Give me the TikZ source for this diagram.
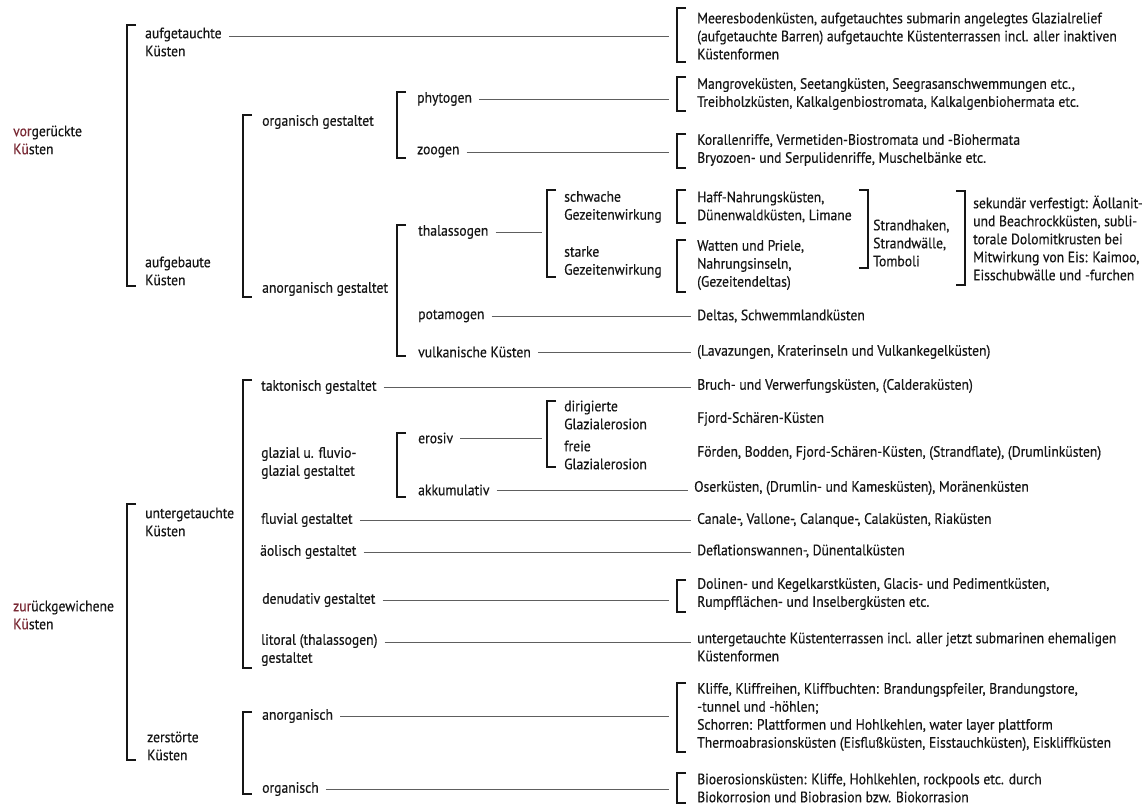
\documentclass[tikz,border=0pt]{standalone}
\usepackage{fontspec}
\setmainfont{PT Sans}[FakeStretch=0.91,FakeBold=0.35]
\definecolor{ink}{HTML}{161616}
\definecolor{lgray}{HTML}{5E5E5E}
\definecolor{hl}{HTML}{7A2A35}

\begin{document}
\begin{tikzpicture}[x=1pt,y=-1pt,every node/.style={font=\fontsize{15}{18}\selectfont}]
    \tikzstyle{txt}=[anchor=west,inner sep=0pt,align=left,text=ink]
    \tikzstyle{brk}=[line width=1.3pt,draw=ink]
    \tikzstyle{conn}=[line width=0.8pt,draw=lgray,shorten <=7pt,shorten >=6pt]
    \tikzstyle{bconn}=[conn,shorten >=28pt]
    \tikzstyle{sconn}=[conn,shorten >=22pt]

    \useasboundingbox[fill=white] (0,0) rectangle (1148,807);

    % main groups
    \node[txt] (vor) at (13,140) {\textcolor{hl}{vor}gerückte\\\textcolor{hl}{Kü}sten};
    \node[txt] (zur) at (13,615) {\textcolor{hl}{zur}ückgewichene\\\textcolor{hl}{Kü}sten};

    \node[txt] (aufget) at (145,42) {aufgetauchte\\Küsten};
    \node[txt] (aufgeb) at (145,271) {aufgebaute\\Küsten};
    \node[txt] (unterg) at (145,522) {untergetauchte\\Küsten};
    \node[txt] (zerst) at (147,746) {zerstörte\\Küsten};
    \draw[brk] (136,25) -| (127,286) -- ++(9,0);
    \draw[brk] (136,504) -| (127,760) -- ++(9,0);

    % aufgebaute Kuesten
    \node[txt] (org) at (262,122) {organisch gestaltet};
    \node[txt] (anorg) at (262,289) {anorganisch gestaltet};
    \draw[brk] (252,115) -| (243,297) -- ++(9,0);

    \node[txt] (phyto) at (417,99) {phytogen};
    \node[txt] (zoo) at (417,152) {zoogen};
    \draw[brk] (406,92) -| (397,158) -- ++(9,0);

    \node[txt] (thal) at (418,232) {thalassogen};
    \node[txt] (pota) at (418,316) {potamogen};
    \node[txt] (vulk) at (418,352) {vulkanische Küsten};
    \draw[brk] (406,225) -| (397,356) -- ++(9,0);

    \node[txt] (schw) at (564,207) {schwache\\Gezeitenwirkung};
    \node[txt] (stark) at (564,262) {starke\\Gezeitenwirkung};
    \draw[brk] (556,190) -| (547,277) -- ++(9,0);

    % untergetauchte Kuesten
    \node[txt] (takt) at (261,387) {taktonisch gestaltet};
    \node[txt] (glaz) at (261,463) {glazial u. fluvio-\\glazial gestaltet};
    \node[txt] (fluv) at (261,520) {fluvial gestaltet};
    \node[txt] (aeol) at (260,552) {äolisch gestaltet};
    \node[txt] (denu) at (262,600) {denudativ gestaltet};
    \node[txt] (lit) at (261,650) {litoral (thalassogen)\\gestaltet};
    \draw[brk] (252,380) -| (243,668) -- ++(9,0);

    \node[txt] (eros) at (418,438) {erosiv};
    \node[txt] (akku) at (418,490) {akkumulativ};
    \draw[brk] (406,433) -| (397,497) -- ++(9,0);

    \node[txt] (dirig) at (564,415) {dirigierte\\Glazialerosion};
    \node[txt] (freie) at (564,455) {freie\\Glazialerosion};
    \draw[brk] (556,401) -| (547,467) -- ++(9,0);

    % zerstoerte Kuesten
    \node[txt] (zanorg) at (262,716) {anorganisch};
    \node[txt] (zorg) at (262,789) {organisch};
    \draw[brk] (252,712) -| (243,794) -- ++(9,0);

    % Kuestenformen
    \node[txt] (meer) at (697,36) {Meeresbodenküsten, aufgetauchtes submarin angelegtes Glazialrelief\\(aufgetauchte Barren) aufgetauchte Küstenterrassen incl. aller inaktiven\\Küstenformen};
    \draw[brk] (686,8) -| (677,62) -- ++(9,0);
    \node[txt] (mangr) at (697,94) {Mangroveküsten, Seetangküsten, Seegrasanschwemmungen etc.,\\Treibholzküsten, Kalkalgenbiostromata, Kalkalgenbiohermata etc.};
    \draw[brk] (686,77) -| (677,111) -- ++(9,0);
    \node[txt] (koral) at (697,150) {Korallenriffe, Vermetiden-Biostromata und -Biohermata\\Bryozoen- und Serpulidenriffe, Muschelbänke etc.};
    \draw[brk] (686,134) -| (677,168) -- ++(9,0);
    \node[txt] (haff) at (697,207) {Haff-Nahrungsküsten,\\Dünenwaldküsten, Limane};
    \draw[brk] (686,190) -| (677,223) -- ++(9,0);
    \node[txt] (watt) at (697,265) {Watten und Priele,\\Nahrungsinseln,\\(Gezeitendeltas)};
    \draw[brk] (686,240) -| (677,292) -- ++(9,0);
    \node[txt] (strand) at (873,243) {Strandhaken,\\Strandwälle,\\Tomboli};
    \draw[brk] (859,190) -| (868,268) -- ++(-9,0);
    \node[txt] (sek) at (973,238) {sekundär verfestigt: Äollanit-\\und Beachrockküsten, subli-\\torale Dolomitkrusten bei\\Mitwirkung von Eis: Kaimoo,\\Eisschubwälle und -furchen};
    \draw[brk] (956,191) -| (965,285) -- ++(-9,0);
    \node[txt] (delta) at (697,316) {Deltas, Schwemmlandküsten};
    \node[txt] (lava) at (697,352) {(Lavazungen, Kraterinseln und Vulkankegelküsten)};
    \node[txt] (bruch) at (697,386) {Bruch- und Verwerfungsküsten, (Calderaküsten)};
    \node[txt] (fjord) at (697,419) {Fjord-Schären-Küsten};
    \node[txt] (foerd) at (697,453) {Förden, Bodden, Fjord-Schären-Küsten, (Strandflate), (Drumlinküsten)};
    \node[txt] (oser) at (694,488) {Oserküsten, (Drumlin- und Kamesküsten), Moränenküsten};
    \node[txt] (canal) at (697,520) {Canale-, Vallone-, Calanque-, Calaküsten, Riaküsten};
    \node[txt] (defl) at (697,551) {Deflationswannen-, Dünentalküsten};
    \node[txt] (dolin) at (697,594) {Dolinen- und Kegelkarstküsten, Glacis- und Pedimentküsten,\\Rumpfflächen- und Inselbergküsten etc.};
    \draw[brk] (686,580) -| (677,612) -- ++(9,0);
    \node[txt] (terr) at (697,647) {untergetauchte Küstenterrassen incl. aller jetzt submarinen ehemaligen\\Küstenformen};
    \node[txt] (kliff) at (697,717) {Kliffe, Kliffreihen, Kliffbuchten: Brandungspfeiler, Brandungstore,\\-tunnel und -höhlen;\\Schorren: Plattformen und Hohlkehlen, water layer plattform\\Thermoabrasionsküsten (Eisflußküsten, Eisstauchküsten), Eiskliffküsten};
    \draw[brk] (686,683) -| (677,752) -- ++(9,0);
    \node[txt] (bio) at (697,788) {Bioerosionsküsten: Kliffe, Hohlkehlen, rockpools etc. durch\\Biokorrosion und Biobrasion bzw. Biokorrasion};
    \draw[brk] (686,773) -| (677,803) -- ++(9,0);

    % connectors
    \draw[bconn] ([yshift=-9pt]aufget.north east) -- ([yshift=-9pt]aufget.north east -| meer.west);
    \draw[bconn] (phyto.east) -- (phyto.east -| mangr.west);
    \draw[bconn] (zoo.east) -- (zoo.east -| koral.west);
    \draw[sconn] (thal.east) -- (thal.east -| schw.west);
    \draw[conn] (pota.east) -- (pota.east -| delta.west);
    \draw[conn] (vulk.east) -- (vulk.east -| lava.west);
    \draw[conn] (takt.east) -- (takt.east -| bruch.west);
    \draw[sconn] (eros.east) -- (eros.east -| dirig.west);
    \draw[conn] (akku.east) -- (akku.east -| oser.west);
    \draw[conn] (fluv.east) -- (fluv.east -| canal.west);
    \draw[conn] (aeol.east) -- (aeol.east -| defl.west);
    \draw[bconn] (denu.east) -- (denu.east -| dolin.west);
    \draw[conn] ([yshift=-9pt]lit.north east) -- ([yshift=-9pt]lit.north east -| terr.west);
    \draw[bconn] (zanorg.east) -- (zanorg.east -| kliff.west);
    \draw[bconn] (zorg.east) -- (zorg.east -| bio.west);
\end{tikzpicture}
\end{document}
